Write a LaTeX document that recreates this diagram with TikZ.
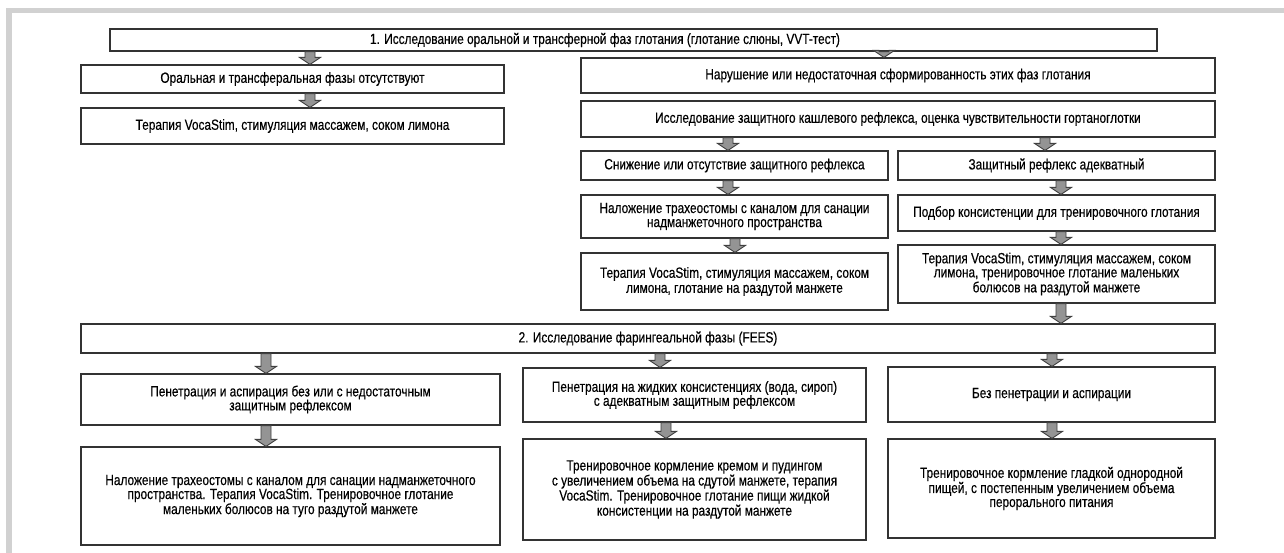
\documentclass[tikz,border=0pt]{standalone}
\usepackage{fontspec}
\setmainfont{Liberation Sans}[FakeStretch=0.8,FakeBold=0.35]
\usetikzlibrary{calc}
\tikzset{
  box/.style={draw=black!80, line width=1.2pt, fill=white, rectangle, inner sep=2pt,
    align=center, font=\fontsize{14.8}{14}\selectfont},
  barrowstyle/.style={fill=black!42, draw=black!75, line width=0.9pt, line join=miter},
  framebar/.style={fill=black!18, draw=none},
  plaintext/.style={inner sep=0pt, font=\fontsize{14.8}{14}\selectfont}
}
\newcommand\bx[6]{\node[box, minimum width={(#4-#2)*1pt}, minimum height={(#5-#3)*1pt}] (#1) at ({(#2+#4)/2},{(#3+#5)/2}) {#6};}
\newcommand\barrow[3]{\filldraw[barrowstyle] let \p1=(#1,0), \p2=(#2.south), \p3=(#3.north) in
  (\x1-5pt,\y2) -- (\x1+5pt,\y2) -- (\x1+5pt,\y3+7pt) -- (\x1+10.5pt,\y3+7pt) -- (\x1,\y3)
  -- (\x1-10.5pt,\y3+7pt) -- (\x1-5pt,\y3+7pt) -- cycle;}
\begin{document}
\begin{tikzpicture}[x=1pt,y=-1pt]
\useasboundingbox (0,0) rectangle (1284,553);
\fill[white] (0,0) rectangle (1284,553);
\fill[framebar] (6,8) rectangle (1284,13);
\fill[framebar] (6,8) rectangle (12,553);

\bx{B1}{110}{29}{1157}{51}{}
\node[plaintext] (B1t) at (605,40) {1. Исследование оральной и трансферной фаз глотания (глотание слюны, VVT-тест)};
\bx{L1}{81}{65}{504}{93}{Оральная и трансферальная фазы отсутствуют}
\bx{L2}{81}{108}{504}{144}{Терапия VocaStim, стимуляция массажем, соком лимона}
\bx{R1}{581}{58}{1215}{93}{Нарушение или недостаточная сформированность этих фаз глотания}
\bx{R2}{581}{101}{1215}{137}{Исследование защитного кашлевого рефлекса, оценка чувствительности гортаноглотки}
\bx{R3a}{581}{151}{888}{180}{Снижение или отсутствие защитного рефлекса}
\bx{R3b}{898}{151}{1215}{180}{Защитный рефлекс адекватный}
\bx{R4a}{581}{195}{888}{238}{Наложение трахеостомы с каналом для санации\\надманжеточного пространства}
\bx{R4b}{898}{195}{1215}{231}{Подбор консистенции для тренировочного глотания}
\bx{R5a}{581}{253}{888}{310}{Терапия VocaStim, стимуляция массажем, соком\\лимона, глотание на раздутой манжете}
\bx{R5b}{898}{245}{1215}{303}{Терапия VocaStim, стимуляция массажем, соком\\лимона, тренировочное глотание маленьких\\болюсов на раздутой манжете}
\bx{B2}{81}{324}{1215}{353}{2. Исследование фарингеальной фазы (FEES)}
\bx{C1a}{81}{374}{500}{425}{Пенетрация и аспирация без или с недостаточным\\защитным рефлексом}
\bx{C1b}{81}{447}{500}{545}{Наложение трахеостомы с каналом для санации надманжеточного\\пространства. Терапия VocaStim. Тренировочное глотание\\маленьких болюсов на туго раздутой манжете}
\bx{C2a}{523}{368}{866}{422}{Пенетрация на жидких консистенциях (вода, сироп)\\с адекватным защитным рефлексом}
\bx{C2b}{523}{439}{866}{540}{Тренировочное кормление кремом и пудингом\\с увеличением объема на сдутой манжете, терапия\\VocaStim. Тренировочное глотание пищи жидкой\\консистенции на раздутой манжете}
\bx{C3a}{888}{367}{1215}{422}{Без пенетрации и аспирации}
\bx{C3b}{888}{439}{1215}{538}{Тренировочное кормление гладкой однородной\\пищей, с постепенным увеличением объема\\перорального питания}

\barrow{310}{B1}{L1}
\barrow{310}{L1}{L2}
\barrow{884}{B1}{R1}
\barrow{728}{R2}{R3a}
\barrow{1045}{R2}{R3b}
\barrow{728}{R3a}{R4a}
\barrow{1061}{R3b}{R4b}
\barrow{735}{R4a}{R5a}
\barrow{1061}{R4b}{R5b}
\barrow{1061}{R5b}{B2}
\barrow{266}{B2}{C1a}
\barrow{266}{C1a}{C1b}
\barrow{660}{B2}{C2a}
\barrow{666}{C2a}{C2b}
\barrow{1052}{B2}{C3a}
\barrow{1052}{C3a}{C3b}
\end{tikzpicture}
\end{document}
